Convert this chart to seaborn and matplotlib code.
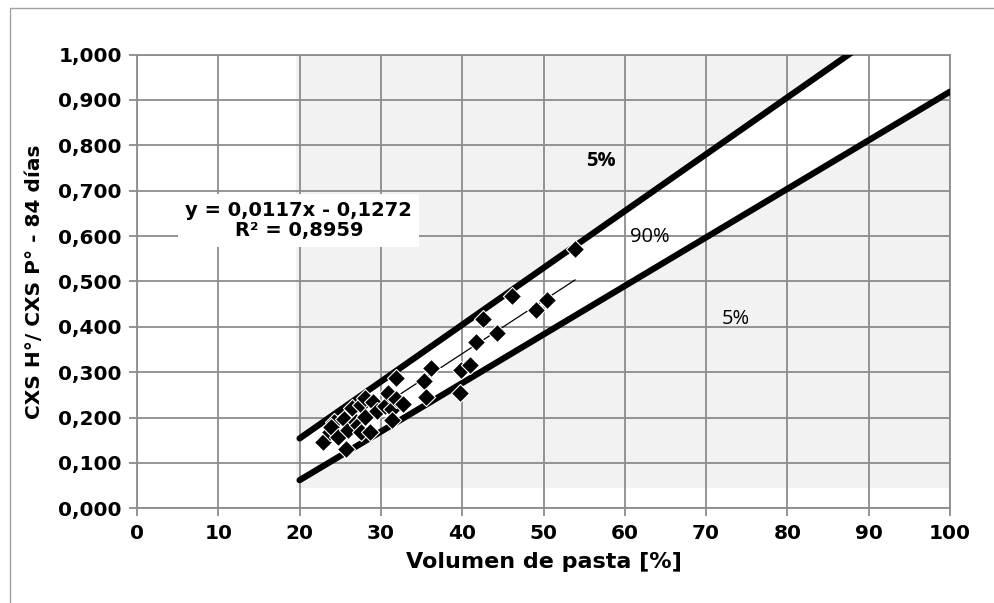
import numpy as np
import pandas as pd
import seaborn as sns
import matplotlib.pyplot as plt
from matplotlib.patches import Rectangle
from matplotlib.ticker import FuncFormatter

# Measured points: paste volume [%] vs. strength ratio at 84 days
vol_pasta = [22.9, 23.7, 24.2, 23.9, 24.7, 25.4, 25.7, 26.0, 26.5, 26.9,
             27.2, 27.5, 27.6, 28.0, 28.0, 28.6, 29.0, 29.5, 30.5, 30.9,
             31.4, 31.4, 31.8, 31.9, 32.7, 35.3, 35.5, 36.2, 39.7, 39.9,
             40.9, 41.7, 42.5, 44.3, 46.1, 49.1, 50.4, 53.9]
ratio = [0.145, 0.168, 0.190, 0.180, 0.157, 0.196, 0.130, 0.172, 0.220, 0.190,
         0.183, 0.168, 0.227, 0.242, 0.201, 0.168, 0.234, 0.215, 0.225, 0.253,
         0.218, 0.194, 0.240, 0.288, 0.229, 0.280, 0.246, 0.310, 0.254, 0.305,
         0.316, 0.366, 0.418, 0.386, 0.467, 0.436, 0.459, 0.572]

# Linear trend
slope, intercept, r2 = 0.0117, -0.1272, 0.8959
trend_x = [22.9, 53.9]

# 90 % band limits (end points)
band_x = [20, 100]
upper_y = [0.154, 1.156]
lower_y = [0.062, 0.918]

# Shaded zone
shade_x = [19.5, 100]
shade_y = [0.044, 1.0]

x_ticks = list(range(0, 101, 10))
y_ticks = [i / 10 for i in range(11)]

sns.set_theme(style="white")
plt.rcParams['font.family'] = ['DejaVu Sans']
plt.rcParams.update({'text.color': 'black', 'axes.labelcolor': 'black',
                     'xtick.labelcolor': 'black', 'ytick.labelcolor': 'black'})

fig = plt.figure(figsize=(9.95, 6.03), dpi=100)
ax = fig.add_axes([137 / 995, 1 - 508.3 / 603, 813 / 995, 453.8 / 603])

# Outer chart frame
fig.patches.append(Rectangle((10 / 995, -0.1), 1.2, 1 - 8 / 603 + 0.1,
                             transform=fig.transFigure, fill=False,
                             edgecolor='#a0a0a0', linewidth=1.0))

# Grey background zone and white band between the limit lines
ax.add_patch(Rectangle((shade_x[0], shade_y[0]), shade_x[1] - shade_x[0],
                       shade_y[1] - shade_y[0], facecolor='#f2f2f2',
                       edgecolor='none', zorder=0.5))
ax.fill_between(band_x, lower_y, upper_y, color='white', zorder=0.6, linewidth=0)

band = pd.DataFrame({'x': band_x * 2, 'y': upper_y + lower_y,
                     'lim': ['sup', 'sup', 'inf', 'inf']})
for lim, g in band.groupby('lim'):
    sns.lineplot(data=g, x='x', y='y', ax=ax, color='black', linewidth=4.5,
                 solid_capstyle='round', zorder=3, estimator=None, sort=False)

trend = pd.DataFrame({'x': trend_x,
                      'y': [slope * v + intercept for v in trend_x]})
sns.lineplot(data=trend, x='x', y='y', ax=ax, color='black', linewidth=0.9,
             zorder=3, estimator=None)

pts = pd.DataFrame({'vol': vol_pasta, 'ratio': ratio})
sns.scatterplot(data=pts, x='vol', y='ratio', ax=ax, marker='D', s=85,
                color='black', edgecolor='white', linewidth=0.8, zorder=4)

ax.set_xlim(0, 100)
ax.set_ylim(0, 1.0)
ax.set_xticks(x_ticks)
ax.set_yticks(y_ticks)
ax.yaxis.set_major_formatter(FuncFormatter(lambda v, p: f"{v:.3f}".replace('.', ',')))
ax.grid(True, color='#8c8c8c', linewidth=1.3)
ax.set_axisbelow('line')
for s in ax.spines.values():
    s.set_color('#8c8c8c')
    s.set_linewidth(1.3)
ax.tick_params(axis='both', length=6, width=1.3, color='#8c8c8c',
               labelsize=14.5, pad=5, direction='out', bottom=True, left=True,
               labelcolor='black')
for lab in ax.get_xticklabels() + ax.get_yticklabels():
    lab.set_fontweight('bold')

ax.set_xlabel('Volumen de pasta [%]', fontsize=16, fontweight='bold', labelpad=7)
ax.set_ylabel('CXS H°/ CXS P° - 84 días', fontsize=14.5, fontweight='bold', labelpad=10)

ax.text(19.9, 0.634, f"y = {slope:.4f}x - {abs(intercept):.4f}".replace('.', ',')
        + "\n" + f"R² = {r2:.4f}".replace('.', ','),
        ha='center', va='center', fontsize=14, fontweight='bold',
        linespacing=1.1, zorder=5,
        bbox=dict(facecolor='white', edgecolor='none', pad=5))

lab_font = ['Open Sans', 'DejaVu Sans']
ax.text(57.1, 0.765, '5%', ha='center', va='center', fontsize=14.5,
        fontweight='bold', family=lab_font, zorder=5)
ax.text(63.1, 0.597, '90%', ha='center', va='center', fontsize=14.5,
        family=lab_font, zorder=5)
ax.text(73.7, 0.418, '5%', ha='center', va='center', fontsize=14.5,
        family=lab_font, zorder=5)

fig.savefig('out.png', dpi=100)
